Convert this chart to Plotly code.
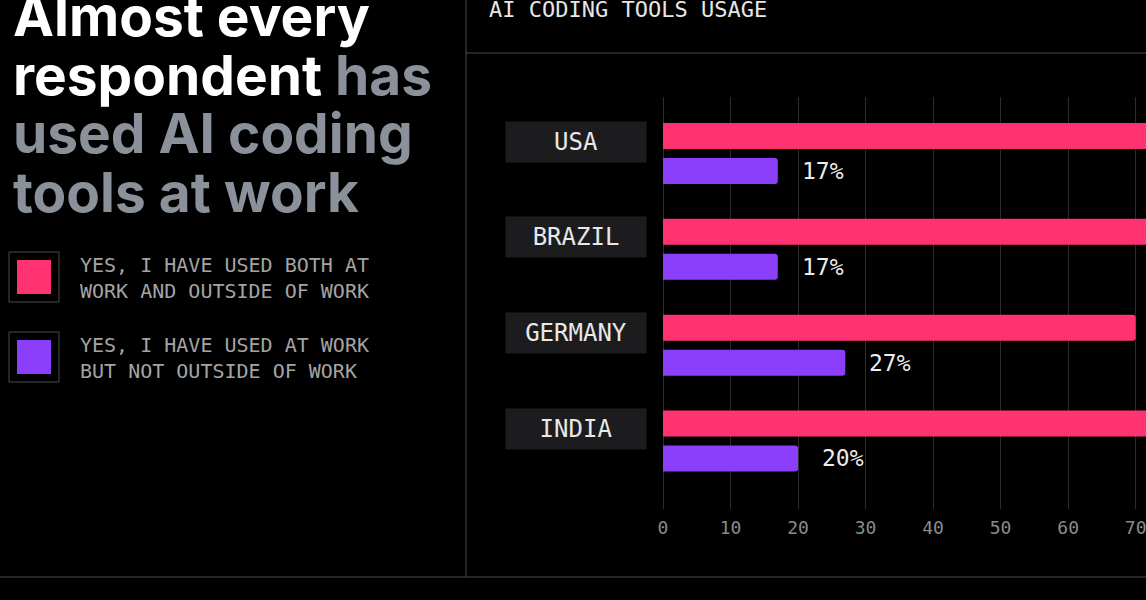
import plotly.graph_objects as go

# ---------------- data ----------------
countries = ["USA", "BRAZIL", "GERMANY", "INDIA"]
both_pct = [80, 80, 70, 79]          # pink bars (cropped beyond 71% in the reference)
work_only_pct = [17, 17, 27, 20]     # purple bars
x_ticks = [0, 10, 20, 30, 40, 50, 60, 70]
series_names = [
    "YES, I HAVE USED BOTH AT<br>WORK AND OUTSIDE OF WORK",
    "YES, I HAVE USED AT WORK<br>BUT NOT OUTSIDE OF WORK",
]
chart_title = "AI CODING TOOLS USAGE"
headline_white = ["Almost every", "respondent"]
headline_gray = ["has", "used AI coding", "tools at work"]

# ---------------- style ----------------
W, H = 1146, 600
PINK = "#ff3371"
PURPLE = "#8c3ffb"
GRAY_HEAD = "#8b919b"
LINE = "#4a4a4a"
GRID = "#2c2c2c"
MONO = "DejaVu Sans Mono"
SANS = "Inter"


def px(x):
    return x / W


def py(y):
    return 1 - y / H


fig = go.Figure()
fig.add_trace(go.Bar(y=countries, x=both_pct, orientation="h", name=series_names[0],
                     marker=dict(color=PINK, line=dict(width=0)), hoverinfo="skip"))
fig.add_trace(go.Bar(y=countries, x=work_only_pct, orientation="h", name=series_names[1],
                     marker=dict(color=PURPLE, line=dict(width=0)), hoverinfo="skip"))

ann = []
shapes = []

# purple value labels
for c, v in zip(countries, work_only_pct):
    ann.append(dict(x=v, y=c, xref="x", yref="y", text=f"{v}%", showarrow=False,
                    xanchor="left", yanchor="middle", xshift=22, yshift=-17.5,
                    font=dict(family=MONO, size=23, color="#ececec")))

# country label boxes
for c in countries:
    ann.append(dict(x=px(576), y=c, xref="paper", yref="y", text=c, showarrow=False,
                    xanchor="center", yanchor="middle", yshift=12, width=140, height=40,
                    bgcolor="#1c1c1f", borderpad=0,
                    font=dict(family=MONO, size=24, color="#e8e8e8")))

# headline (one annotation per line)
head_lines = [
    (headline_white[0], 36, "#ffffff"),
    (f"{headline_white[1]} <span style='color:{GRAY_HEAD}'>{headline_gray[0]}</span>", 95, "#ffffff"),
    (headline_gray[1], 153, GRAY_HEAD),
    (headline_gray[2], 212, GRAY_HEAD),
]
HS = 55
for txt, base, col in head_lines:
    ann.append(dict(x=px(11), y=py(base - 0.36 * HS), xref="paper", yref="paper", text=txt,
                    showarrow=False, xanchor="left", yanchor="middle",
                    font=dict(family=SANS, size=HS, color=col, weight=700)))

# chart title
ann.append(dict(x=px(487), y=py(17.3 - 0.346 * 22), xref="paper", yref="paper", text=chart_title,
                showarrow=False, xanchor="left", yanchor="middle",
                font=dict(family=MONO, size=22, color="#e6e6e6")))

# legend
legend_rows = [(252, PINK, 277.8), (332, PURPLE, 357.5)]
for (top, col, tc), name in zip(legend_rows, series_names):
    shapes.append(dict(type="rect", xref="paper", yref="paper", x0=px(9), x1=px(59),
                       y0=py(top), y1=py(top + 50), line=dict(color=LINE, width=1)))
    shapes.append(dict(type="rect", xref="paper", yref="paper", x0=px(17), x1=px(51),
                       y0=py(top + 8), y1=py(top + 42), fillcolor=col, line=dict(width=0)))
    ann.append(dict(x=px(78), y=py(tc), xref="paper", yref="paper", text=name, showarrow=False,
                    xanchor="left", yanchor="middle", align="left",
                    font=dict(family=MONO, size=20, color="#a4a4a4")))

# divider lines
shapes.append(dict(type="line", xref="paper", yref="paper", x0=px(466), x1=px(466),
                   y0=py(0), y1=py(577), line=dict(color=LINE, width=1)))
shapes.append(dict(type="line", xref="paper", yref="paper", x0=px(466), x1=1,
                   y0=py(53), y1=py(53), line=dict(color=LINE, width=1)))
shapes.append(dict(type="line", xref="paper", yref="paper", x0=0, x1=1,
                   y0=py(577), y1=py(577), line=dict(color=LINE, width=1)))

fig.update_layout(
    width=W, height=H,
    margin=dict(l=0, r=0, t=0, b=0),
    paper_bgcolor="#000000", plot_bgcolor="#000000",
    barmode="group", bargap=0.269, bargroupgap=0.257, barcornerradius=3,
    showlegend=False,
    annotations=ann, shapes=shapes,
    xaxis=dict(domain=[px(660), 1], range=[-0.444, 71.53], tickvals=x_ticks,
               showgrid=True, gridcolor=GRID, gridwidth=1, zeroline=False, showline=False,
               ticks="", ticklabelstandoff=6, ticklabeloverflow="allow", automargin=False,
               tickfont=dict(family=MONO, size=18, color="#8a8a8a")),
    yaxis=dict(domain=[py(509), py(97)], type="category", categoryorder="array",
               categoryarray=countries, range=[3.71, -0.59], showgrid=False,
               zeroline=False, showline=False, showticklabels=False, automargin=False),
)

fig.write_html("out.html", config={"displayModeBar": False})
